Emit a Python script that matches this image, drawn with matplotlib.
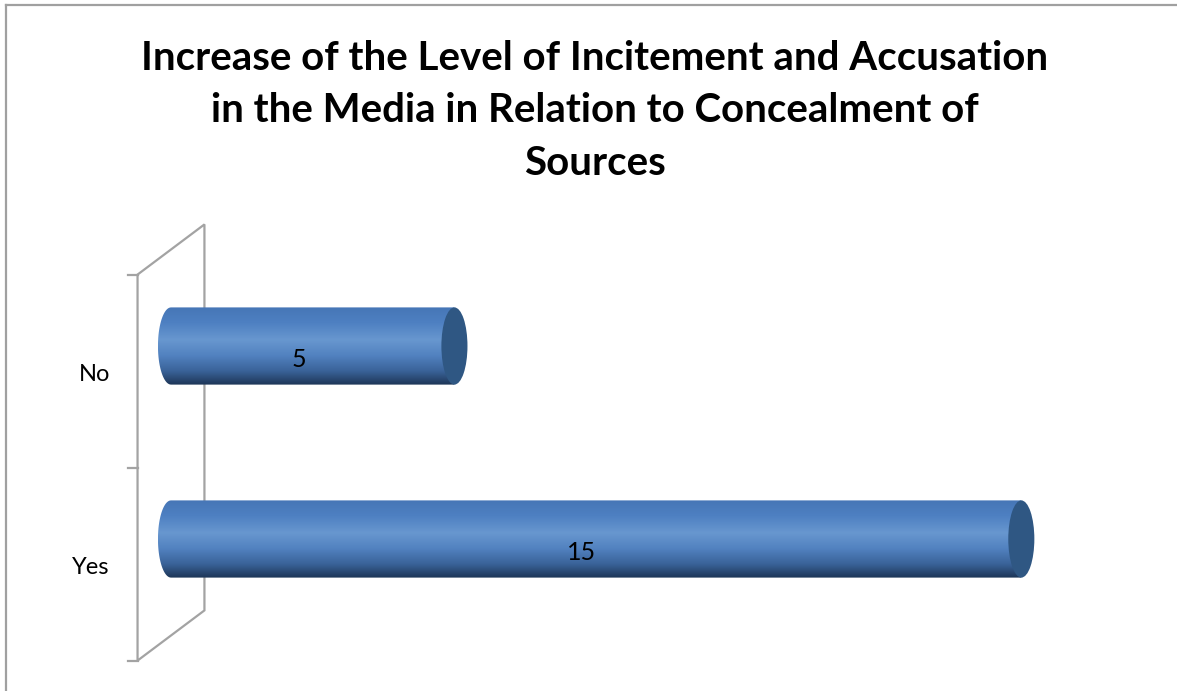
import numpy as np
import matplotlib.pyplot as plt
from matplotlib.colors import LinearSegmentedColormap
from matplotlib.patches import Ellipse, PathPatch, Polygon
from matplotlib.path import Path
from matplotlib.lines import Line2D

plt.rcParams['font.family'] = ['Lato', 'DejaVu Sans']

title = 'Increase of the Level of Incitement and Accusation\nin the Media in Relation to Concealment of\nSources'
categories = ['Yes', 'No']
values = [15, 5]

fig = plt.figure(figsize=(11.77, 6.91), dpi=100)
# one value unit is about 56.7 px; x runs from -1 to 16
ax = fig.add_axes([114.3 / 1177, 11 / 691, 963.7 / 1177, 480 / 691])
ax.axis('off')

# shading across the cylinder, top edge to bottom edge
body_cmap = LinearSegmentedColormap.from_list('cyl', [
    (0.0, '#4676b6'), (0.2, '#4e80c2'), (0.42, '#6897cf'),
    (0.62, '#5282c0'), (0.82, '#3a6399'), (1.0, '#1d3556')])
cap_color = '#2f5783'

bar_h = 0.40   # cylinder diameter in category units
cap_w = 0.23   # half width of the end ellipse in value units
depth_x, depth_y = 0.59, 0.13   # back wall offset from the bar plane

# back wall (side panel) as a 3d parallelogram
n = len(categories)
lo, hi = -0.5, n - 0.5
wall = Polygon([(-depth_x, lo - depth_y), (depth_x, lo + depth_y),
                (depth_x, hi + depth_y), (-depth_x, hi - depth_y)],
               closed=True, fill=False, edgecolor='#a3a3a3', lw=1.6,
               clip_on=False, zorder=1)
ax.add_patch(wall)
for k in range(n + 1):
    yk = lo + k - depth_y
    ax.add_line(Line2D([-depth_x - 0.17, -depth_x], [yk, yk], color='#a3a3a3',
                       lw=1.6, clip_on=False, zorder=1))

grad = np.linspace(0, 1, 256).reshape(-1, 1)
for i, (cat, v) in enumerate(zip(categories, values)):
    top, bot = i + bar_h / 2, i - bar_h / 2
    t = np.linspace(np.pi / 2, 3 * np.pi / 2, 40)
    left = np.column_stack([cap_w * np.cos(t), i + bar_h / 2 * np.sin(t)])
    verts = np.vstack([left, [[v, bot], [v, top], [0, top]]])
    body = PathPatch(Path(verts, closed=False), facecolor='none', edgecolor='none')
    ax.add_patch(body)
    im = ax.imshow(grad, cmap=body_cmap, aspect='auto', interpolation='bilinear',
                   extent=[-cap_w, v, bot, top], zorder=2)
    im.set_clip_path(body)
    ax.add_patch(Ellipse((v, i), 2 * cap_w, bar_h, facecolor=cap_color,
                         edgecolor='none', zorder=3))
    ax.text(v / 2 - 0.25, i - 0.07, str(v), ha='center', va='center',
            fontsize=18, color='black', zorder=4)
    ax.text(-1.08, i - depth_y - 0.02, cat, ha='right', va='center', fontsize=17,
            color='black', clip_on=False)

ax.set_xlim(-1, 16)
ax.set_ylim(-0.7306, 1.7565)

fig.text(595 / 1177, 1 - 111 / 691, title, ha='center', va='center',
         fontsize=29, fontweight='bold', linespacing=1.53)

# chart area border (top and left edges)
fig.add_artist(Line2D([6 / 1177, 1], [1 - 5 / 691, 1 - 5 / 691],
                      transform=fig.transFigure, color='#a0a0a0', lw=1.6))
fig.add_artist(Line2D([6 / 1177, 6 / 1177], [0, 1 - 5 / 691],
                      transform=fig.transFigure, color='#a0a0a0', lw=1.6))

fig.savefig('out.png', dpi=100)
